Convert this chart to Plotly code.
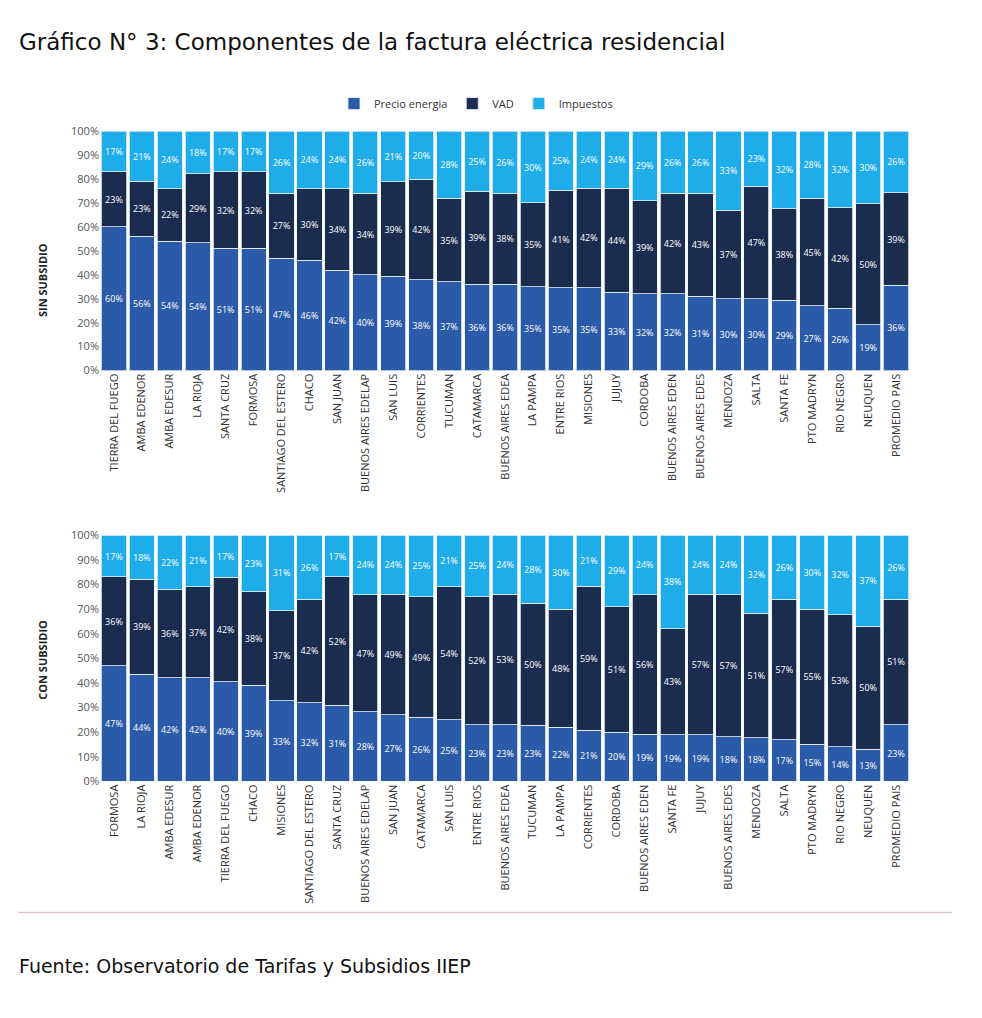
import plotly.graph_objects as go

# ---- Data: SIN SUBSIDIO ----
cat_sin = ["TIERRA DEL FUEGO", "AMBA EDENOR", "AMBA EDESUR", "LA RIOJA", "SANTA CRUZ", "FORMOSA",
           "SANTIAGO DEL ESTERO", "CHACO", "SAN JUAN", "BUENOS AIRES EDELAP", "SAN LUIS", "CORRIENTES",
           "TUCUMAN", "CATAMARCA", "BUENOS AIRES EDEA", "LA PAMPA", "ENTRE RIOS", "MISIONES", "JUJUY",
           "CORDOBA", "BUENOS AIRES EDEN", "BUENOS AIRES EDES", "MENDOZA", "SALTA", "SANTA FE",
           "PTO MADRYN", "RIO NEGRO", "NEUQUEN", "PROMEDIO PAIS"]
precio_sin = [60, 56, 54, 54, 51, 51, 47, 46, 42, 40, 39, 38, 37, 36, 36, 35, 35, 35, 33, 32, 32, 31, 30, 30, 29, 27, 26, 19, 36]
vad_sin = [23, 23, 22, 29, 32, 32, 27, 30, 34, 34, 39, 42, 35, 39, 38, 35, 41, 42, 44, 39, 42, 43, 37, 47, 38, 45, 42, 50, 39]
imp_sin = [17, 21, 24, 18, 17, 17, 26, 24, 24, 26, 21, 20, 28, 25, 26, 30, 25, 24, 24, 29, 26, 26, 33, 23, 32, 28, 32, 30, 26]

# ---- Data: CON SUBSIDIO ----
cat_con = ["FORMOSA", "LA RIOJA", "AMBA EDESUR", "AMBA EDENOR", "TIERRA DEL FUEGO", "CHACO", "MISIONES",
           "SANTIAGO DEL ESTERO", "SANTA CRUZ", "BUENOS AIRES EDELAP", "SAN JUAN", "CATAMARCA", "SAN LUIS",
           "ENTRE RIOS", "BUENOS AIRES EDEA", "TUCUMAN", "LA PAMPA", "CORRIENTES", "CORDOBA",
           "BUENOS AIRES EDEN", "SANTA FE", "JUJUY", "BUENOS AIRES EDES", "MENDOZA", "SALTA",
           "PTO MADRYN", "RIO NEGRO", "NEUQUEN", "PROMEDIO PAIS"]
precio_con = [47, 44, 42, 42, 40, 39, 33, 32, 31, 28, 27, 26, 25, 23, 23, 23, 22, 21, 20, 19, 19, 19, 18, 18, 17, 15, 14, 13, 23]
vad_con = [36, 39, 36, 37, 42, 38, 37, 42, 52, 47, 49, 49, 54, 52, 53, 50, 48, 59, 51, 56, 43, 57, 57, 51, 57, 55, 53, 50, 51]
imp_con = [17, 18, 22, 21, 17, 23, 31, 26, 17, 24, 24, 25, 21, 25, 24, 28, 30, 21, 29, 24, 38, 24, 24, 32, 26, 30, 32, 37, 26]

series_names = ["Precio energia", "VAD", "Impuestos"]
colors = ["#2b5ba8", "#1b2d4f", "#1fadea"]

W, H = 982, 1018
def py(p):
    return 1 - p / H
def px(p):
    return p / W

NARROW = "Liberation Sans Narrow, Open Sans, sans-serif"

fig = go.Figure()

label_font = dict(family="Open Sans", size=9, color="white")

for panel, (cats, vals, xa, ya) in enumerate([
        (cat_sin, [precio_sin, vad_sin, imp_sin], "x", "y"),
        (cat_con, [precio_con, vad_con, imp_con], "x2", "y2")]):
    for i, (name, v) in enumerate(zip(series_names, vals)):
        fig.add_trace(go.Bar(
            x=cats, y=v, name=name, xaxis=xa, yaxis=ya,
            marker=dict(color=colors[i], line=dict(color="#e6f0fa", width=0.8)),
            text=[f"{t}%" for t in v], textposition="inside", insidetextanchor="middle",
            textangle=0, textfont=label_font, constraintext="none",
            showlegend=(panel == 0), legendgroup=name, hoverinfo="skip",
        ))

xtick_font = dict(family=NARROW, size=11, color="#333333")
ytick_font = dict(family=NARROW, size=11, color="#555555")
xdom = [px(100), px(910)]
fig.update_layout(
    width=W, height=H, margin=dict(l=0, r=0, t=0, b=0),
    paper_bgcolor="white", plot_bgcolor="white",
    barmode="stack", barnorm="percent", bargap=0.1,
    showlegend=True,
    legend=dict(orientation="h", x=px(476), xanchor="center", y=py(97), yanchor="middle",
                font=dict(family=NARROW, size=11, color="#333333"), traceorder="normal",
                itemwidth=30, bgcolor="rgba(0,0,0,0)", tracegroupgap=0),
    xaxis=dict(domain=xdom, anchor="y", tickangle=-90, tickfont=xtick_font, showline=False,
               ticks="", showgrid=False),
    yaxis=dict(domain=[py(368), py(125)], anchor="x", range=[0, 100], dtick=10, ticksuffix="%",
               tickfont=ytick_font, showgrid=False, zeroline=False, ticks=""),
    xaxis2=dict(domain=xdom, anchor="y2", tickangle=-90, tickfont=xtick_font, showline=False,
                ticks="", showgrid=False),
    yaxis2=dict(domain=[py(785), py(535)], anchor="x2", range=[0, 100], dtick=10, ticksuffix="%",
                tickfont=ytick_font, showgrid=False, zeroline=False, ticks=""),
)

annotations = [
    dict(text="Gráfico N° 3: Componentes de la factura eléctrica residencial", x=px(17), y=py(35),
         xref="paper", yref="paper", xanchor="left", yanchor="middle", showarrow=False,
         font=dict(family="DejaVu Sans", size=23, color="#111111")),
    dict(text="<b>SIN SUBSIDIO</b>", x=px(33), y=py(237), xref="paper", yref="paper",
         textangle=-90, showarrow=False, font=dict(family=NARROW, size=11, color="#222222")),
    dict(text="<b>CON SUBSIDIO</b>", x=px(33), y=py(662), xref="paper", yref="paper",
         textangle=-90, showarrow=False, font=dict(family=NARROW, size=11, color="#222222")),
    dict(text="Fuente: Observatorio de Tarifas y Subsidios IIEP", x=px(17), y=py(972),
         xref="paper", yref="paper", xanchor="left", yanchor="middle", showarrow=False,
         font=dict(family="DejaVu Sans", size=19, color="#111111")),
]
fig.update_layout(annotations=annotations)
fig.add_shape(type="line", xref="paper", yref="paper", x0=px(18), x1=px(952), y0=py(918), y1=py(918),
              line=dict(color="#dcc8c8", width=1.5))

fig.write_html("out.html")
